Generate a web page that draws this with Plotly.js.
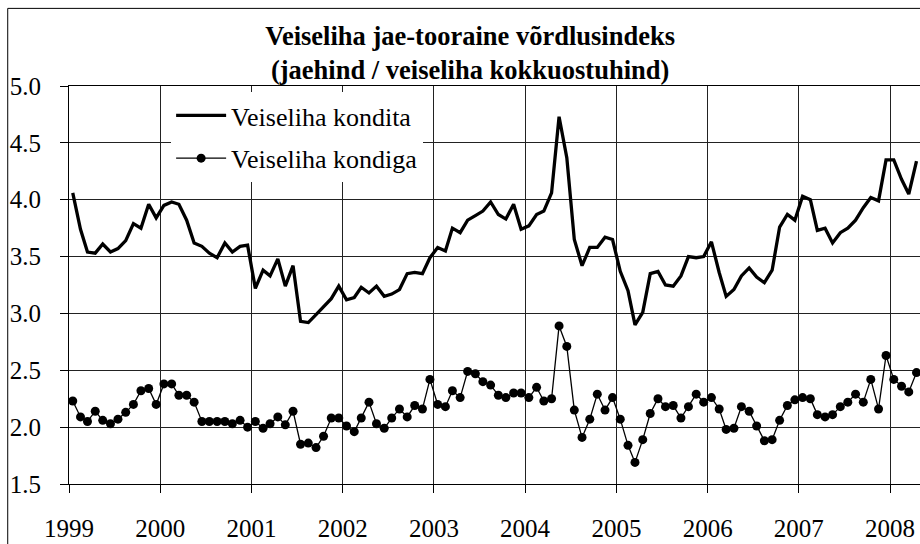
<!DOCTYPE html>
<html>
<head>
<meta charset="utf-8">
<script src="https://cdn.plot.ly/plotly-3.0.1.min.js"></script>
<style>
  html, body { margin: 0; padding: 0; background: #fff; overflow: hidden; }
  #chart { width: 920px; height: 544px; }
</style>
</head>
<body>
<div id="chart"></div>
<script>
// Monthly series, January 1999 – April 2008
const startYear = 1999;
const monthCount = 112;

const seriesNames = ["Veiseliha kondita", "Veiseliha kondiga"];

const kondita = [
  4.06, 3.74, 3.54, 3.53, 3.61, 3.54, 3.57, 3.64, 3.79, 3.75, 3.96, 3.84,
  3.95, 3.98, 3.96, 3.82, 3.62, 3.59, 3.53, 3.49, 3.62, 3.54, 3.59, 3.60,
  3.22, 3.38, 3.33, 3.48, 3.24, 3.42, 2.93, 2.92, 2.99, 3.06, 3.13, 3.24,
  3.12, 3.14, 3.23, 3.18, 3.24, 3.15, 3.17, 3.21, 3.35, 3.36, 3.35, 3.49,
  3.58, 3.55, 3.75, 3.71, 3.82, 3.86, 3.90, 3.98, 3.87, 3.83, 3.96, 3.74,
  3.77, 3.87, 3.90, 4.06, 4.73, 4.37, 3.65, 3.42, 3.58, 3.58, 3.67, 3.65,
  3.37, 3.20, 2.90, 3.01, 3.35, 3.37, 3.25, 3.24, 3.33, 3.50, 3.49, 3.50,
  3.63, 3.36, 3.15, 3.21, 3.33, 3.40, 3.32, 3.27, 3.38, 3.76, 3.87, 3.82,
  4.03, 4.00, 3.73, 3.75, 3.62, 3.71, 3.75, 3.82, 3.93, 4.02, 3.99, 4.35,
  4.35, 4.18, 4.05, 4.34
];

const kondiga = [
  2.23, 2.09, 2.05, 2.14, 2.06, 2.03, 2.07, 2.13, 2.20, 2.32, 2.34, 2.20,
  2.38, 2.38, 2.28, 2.28, 2.22, 2.05, 2.05, 2.05, 2.05, 2.03, 2.06, 2.00,
  2.05, 1.99, 2.03, 2.09, 2.02, 2.14, 1.85, 1.86, 1.82, 1.92, 2.08, 2.08,
  2.01, 1.96, 2.08, 2.22, 2.03, 1.99, 2.08, 2.16, 2.09, 2.19, 2.16, 2.42,
  2.20, 2.18, 2.32, 2.26, 2.49, 2.47, 2.40, 2.37, 2.28, 2.26, 2.30, 2.30,
  2.26, 2.35, 2.23, 2.25, 2.89, 2.71, 2.15, 1.91, 2.07, 2.29, 2.15, 2.26,
  2.07, 1.84, 1.69, 1.89, 2.12, 2.25, 2.18, 2.19, 2.08, 2.18, 2.29, 2.22,
  2.26, 2.16, 1.98, 1.99, 2.18, 2.14, 2.01, 1.88, 1.89, 2.06, 2.19, 2.24,
  2.26, 2.25, 2.11, 2.09, 2.11, 2.18, 2.22, 2.29, 2.22, 2.42, 2.16, 2.63,
  2.42, 2.36, 2.31, 2.48
];

const yearLabels = ["1999", "2000", "2001", "2002", "2003", "2004", "2005", "2006", "2007", "2008"];
const yTickVals = [1.5, 2.0, 2.5, 3.0, 3.5, 4.0, 4.5, 5.0];

const titleText = "Veiseliha jae-tooraine võrdlusindeks<br>(jaehind / veiseliha kokkuostuhind)";

// month categories (mid-month dates)
const months = [];
for (let i = 0; i < monthCount; i++) {
  const y = startYear + Math.floor(i / 12);
  const m = (i % 12) + 1;
  months.push(y + "-" + String(m).padStart(2, "0") + "-16");
}
const yearTicks = yearLabels.map(y => y + "-01-01");

const serif = "Liberation Serif";

const traces = [
  {
    x: months, y: kondita, name: seriesNames[0], type: "scatter", mode: "lines",
    line: { color: "#000", width: 3.3 }, legendgroup: "a"
  },
  {
    x: months, y: kondiga, name: seriesNames[1], type: "scatter", mode: "lines+markers",
    line: { color: "#000", width: 1.3 }, marker: { color: "#000", size: 9 }, legendgroup: "b"
  }
];

const layout = {
  width: 920, height: 544,
  margin: { l: 69, r: 0, t: 86, b: 60 },
  paper_bgcolor: "#fff", plot_bgcolor: "#fff",
  font: { family: serif, color: "#000" },
  showlegend: true,
  title: {
    text: titleText,
    font: { family: serif, size: 26.5, color: "#000", weight: "bold" },
    x: 0.511, xref: "container", xanchor: "center",
    y: 0.918, yref: "container", yanchor: "middle"
  },
  xaxis: {
    type: "date",
    range: ["1999-01-01", "2008-04-30"],
    tickvals: yearTicks, ticktext: yearLabels,
    ticks: "outside", ticklen: 8, tickcolor: "#000", tickwidth: 1,
    showgrid: true, gridcolor: "#222", gridwidth: 1,
    showline: true, linecolor: "#000", linewidth: 1, mirror: true,
    zeroline: false,
    tickfont: { family: serif, size: 25, color: "#000" },
    ticklabelstandoff: 14
  },
  yaxis: {
    range: [1.5, 5.0],
    tickvals: yTickVals, tickformat: ".1f",
    ticks: "outside", ticklen: 8, tickcolor: "#000", tickwidth: 1,
    showgrid: true, gridcolor: "#222", gridwidth: 1,
    showline: true, linecolor: "#000", linewidth: 1,
    zeroline: false,
    tickfont: { family: serif, size: 25, color: "#000" },
    ticklabelstandoff: 14
  },
  legend: {
    x: 0.12, xanchor: "left", y: 0.985, yanchor: "top",
    bgcolor: "#fff", borderwidth: 0,
    font: { family: serif, size: 26, color: "#000" },
    traceorder: "grouped", tracegroupgap: 6,
    itemwidth: 50
  },
  shapes: [
    { type: "rect", xref: "paper", yref: "paper",
      x0: -0.072, x1: 1.05, y0: -0.3, y1: 1.195,
      line: { color: "#000", width: 1 }, fillcolor: "rgba(0,0,0,0)", layer: "above" }
  ]
};

Plotly.newPlot("chart", traces, layout, { staticPlot: true, displayModeBar: false });
</script>
</body>
</html>
